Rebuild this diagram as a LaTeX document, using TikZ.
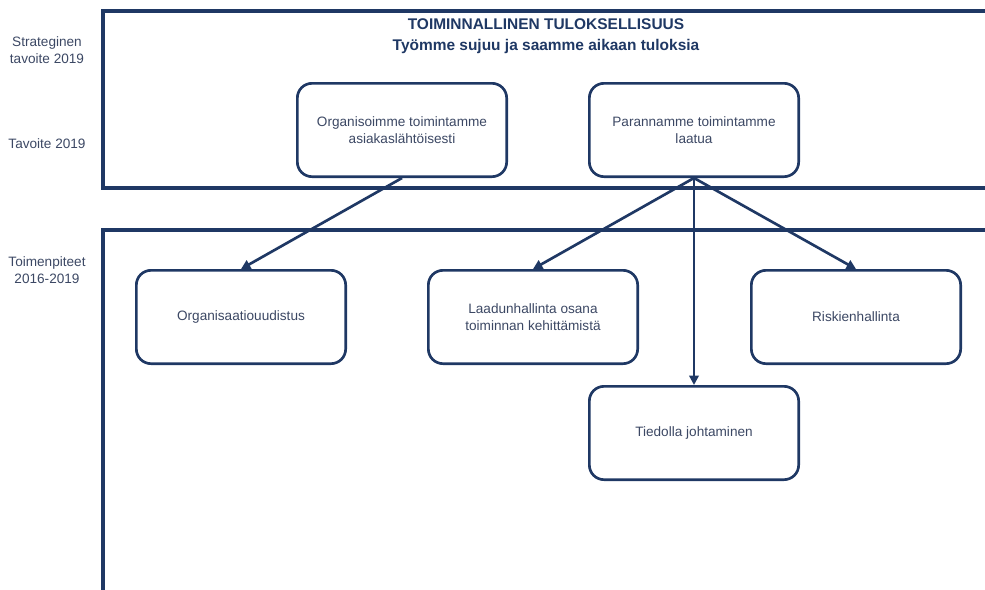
\documentclass[tikz,border=0pt]{standalone}
\usepackage{fontspec}
\setmainfont{Liberation Sans}
\usetikzlibrary{arrows.meta}
\definecolor{navy}{RGB}{31,56,100}
\definecolor{txt}{RGB}{60,72,100}

\begin{document}
\begin{tikzpicture}[
  x=0.75pt,
  y=-0.75pt,
  font=\fontsize{10.2}{12.5}\selectfont,
  frame/.style={draw=navy, line width=2.3pt},
  side/.style={align=center, text=txt},
  title/.style={align=center, text=navy, font=\fontsize{11.6}{16}\selectfont\bfseries},
  goal/.style={draw=navy, line width=2pt, rounded corners=11pt, minimum width=157pt, minimum height=70pt, align=center, text=txt, fill=white},
  act/.style={draw=navy, line width=2pt, rounded corners=11pt, minimum width=157pt, minimum height=70pt, align=center, text=txt, fill=white},
  link/.style={draw=navy, line width=2pt, -{Triangle[length=7pt,width=7pt]}}
]
  \useasboundingbox (0,0) rectangle (985,589);
  \clip (0,0) rectangle (985,589);

  \draw[frame] (103,11) rectangle (1000,188);
  \draw[frame] (103,230) rectangle (1000,600);

  \node[side] (s1) at (47,50) {Strateginen\\tavoite 2019};
  \node[side] (s2) at (47,144) {Tavoite 2019};
  \node[side] (s3) at (47,270) {Toimenpiteet\\2016-2019};

  \node[title] (t) at (546,36) {TOIMINNALLINEN TULOKSELLISUUS\\Työmme sujuu ja saamme aikaan tuloksia};

  \node[goal] (g1) at (402,130) {Organisoimme toimintamme\\asiakaslähtöisesti};
  \node[goal] (g2) at (694,130) {Parannamme toimintamme\\laatua};

  \node[act] (a1) at (241,317) {Organisaatiouudistus};
  \node[act] (a2) at (533,317) {Laadunhallinta osana\\toiminnan kehittämistä};
  \node[act] (a3) at (856,317) {Riskienhallinta};
  \node[act] (a4) at (694,433) {Tiedolla johtaminen};

  \draw[link] (g1.south) -- (a1.north);
  \draw[link] (g2.south) -- (a2.north);
  \draw[link] (g2.south) -- (a4.north);
  \draw[link] (g2.south) -- (a3.north);
\end{tikzpicture}
\end{document}
